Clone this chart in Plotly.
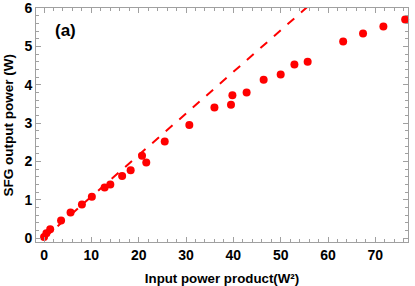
import plotly.graph_objects as go

# Measured data: input power product (W^2) vs SFG output power (W)
input_power = [0.0, 0.5, 1.3, 3.6, 5.6, 8.0, 10.1, 12.8, 14.0, 16.5, 18.3, 20.7, 21.6,
               25.5, 30.7, 36.0, 39.5, 39.8, 42.8, 46.4, 50.0, 52.9, 55.7,
               63.2, 67.4, 71.7, 76.3]
sfg_power = [0.03, 0.13, 0.23, 0.46, 0.67, 0.88, 1.08, 1.32, 1.40, 1.62, 1.77, 2.15, 1.97,
             2.52, 2.95, 3.41, 3.48, 3.73, 3.80, 4.13, 4.27, 4.53, 4.60,
             5.13, 5.34, 5.52, 5.70]

# Linear (undepleted) trend line
trend_x = [0.0, 56.0]
trend_y = [0.0, 6.07]

x_ticks = [0, 10, 20, 30, 40, 50, 60, 70]
y_ticks = [0, 1, 2, 3, 4, 5, 6]

FONT = "Liberation Sans, Arial, sans-serif"
frame = "#a0a0a0"

fig = go.Figure()
fig.add_trace(go.Scatter(x=trend_x, y=trend_y, mode="lines",
                         line=dict(color="#ff0000", width=2, dash="dash"),
                         hoverinfo="skip", showlegend=False, cliponaxis=True))
fig.add_trace(go.Scatter(x=input_power, y=sfg_power, mode="markers",
                         marker=dict(color="#ff0000", size=8),
                         showlegend=False, cliponaxis=False))

axis_common = dict(showgrid=False, zeroline=False, showline=True, linecolor=frame,
                   linewidth=1, mirror="allticks", ticks="inside", ticklen=5,
                   tickcolor=frame, tickwidth=1, automargin=False,
                   ticklabeloverflow="allow",
                   tickfont=dict(family=FONT, size=14, color="black", weight="bold"))

fig.update_xaxes(range=[-1.7, 76.9], tickvals=x_ticks,
                 minor=dict(dtick=2, ticks="inside", ticklen=3, tickcolor=frame, showgrid=False),
                 title=dict(text="Input power product(W²)", standoff=13,
                            font=dict(family=FONT, size=13.3, color="black", weight="bold")),
                 **axis_common)
fig.update_yaxes(range=[-0.1, 6.002], tickvals=y_ticks,
                 minor=dict(dtick=0.2, ticks="inside", ticklen=3, tickcolor=frame, showgrid=False),
                 **axis_common)

# y-axis title placed precisely
fig.add_annotation(xref="paper", yref="paper", x=-0.074, y=0.5, text="SFG output power (W)",
                   textangle=-90, showarrow=False, xanchor="center", yanchor="middle",
                   font=dict(family=FONT, size=13.5, color="black", weight="bold"))

fig.add_annotation(x=4.6, y=5.42, text="(a)", showarrow=False,
                   font=dict(family=FONT, size=17, color="black", weight="bold"))

fig.update_layout(width=415, height=286, margin=dict(l=36, r=7, t=8, b=44),
                  plot_bgcolor="white", paper_bgcolor="white")

fig.write_html("out.html", config={"displayModeBar": False},
               post_script="document.body.style.margin='0px';")
